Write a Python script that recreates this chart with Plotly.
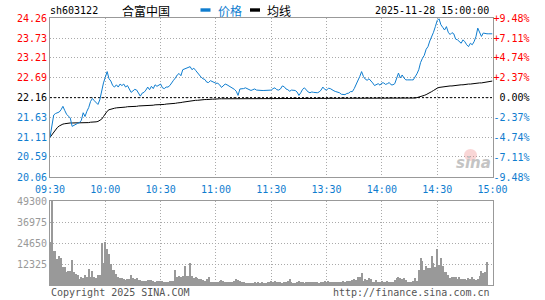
import plotly.graph_objects as go

# ---------------- data ----------------
code = "sh603122"
name = "合富中国"
stamp = "2025-11-28 15:00:00"
prev_close = 22.16

time_ticks = [0, 30, 60, 90, 120, 150, 180, 210, 240]
time_labels = ["09:30", "10:00", "10:30", "11:00", "11:30", "13:30", "14:00", "14:30", "15:00"]
price_ticks = [24.26, 23.73, 23.21, 22.69, 22.16, 21.63, 21.11, 20.59, 20.06]
pct_ticks = [9.48, 7.11, 4.74, 2.37, 0.00, -2.37, -4.74, -7.11, -9.48]
vol_ticks = [49300, 36975, 24650, 12325]

price = [
    21.11, 21.45, 21.70, 21.74, 21.76, 21.78, 21.84, 21.93, 21.82, 21.72,
    21.67, 21.62, 21.40, 21.43, 21.47, 21.48, 21.50, 21.56, 21.76, 21.66,
    21.80, 21.90, 22.06, 22.14, 22.08, 22.02, 21.98, 22.10, 22.35, 22.55,
    22.70, 22.85, 22.66, 22.60, 22.48, 22.44, 22.50, 22.44, 22.52, 22.48,
    22.52, 22.44, 22.48, 22.38, 22.30, 22.34, 22.38, 22.36, 22.26, 22.20,
    22.28, 22.30, 22.36, 22.44, 22.37, 22.46, 22.40, 22.50, 22.46, 22.50,
    22.52, 22.42, 22.40, 22.44, 22.44, 22.48, 22.56, 22.62, 22.68, 22.76,
    22.80, 22.74, 22.90, 22.92, 22.94, 22.94, 22.98, 22.90, 22.94, 22.88,
    22.82, 22.74, 22.70, 22.66, 22.64, 22.57, 22.56, 22.61, 22.58, 22.56,
    22.54, 22.54, 22.50, 22.43, 22.47, 22.52, 22.50, 22.47, 22.45, 22.43,
    22.38, 22.33, 22.22, 22.39, 22.39, 22.40, 22.42, 22.39, 22.37, 22.35,
    22.37, 22.39, 22.36, 22.35, 22.35, 22.35, 22.35, 22.35, 22.35, 22.35,
    22.36, 22.40, 22.42, 22.37, 22.36, 22.39, 22.47, 22.45, 22.39, 22.37,
    22.33, 22.36, 22.36, 22.35, 22.31, 22.22, 22.29, 22.38, 22.42, 22.35,
    22.31, 22.29, 22.31, 22.30, 22.29, 22.29, 22.31, 22.36, 22.44, 22.38,
    22.36, 22.41, 22.40, 22.36, 22.34, 22.32, 22.31, 22.29, 22.25, 22.25,
    22.24, 22.27, 22.28, 22.32, 22.32, 22.40, 22.50, 22.59, 22.72, 22.85,
    22.72, 22.65, 22.62, 22.66, 22.61, 22.55, 22.48, 22.50, 22.53, 22.49,
    22.55, 22.55, 22.51, 22.53, 22.56, 22.50, 22.50, 22.53, 22.65, 22.81,
    22.68, 22.76, 22.68, 22.63, 22.63, 22.62, 22.63, 22.63, 22.70, 22.79,
    22.90, 23.09, 23.20, 23.28, 23.44, 23.51, 23.66, 23.76, 23.89, 24.04,
    24.20, 24.25, 24.09, 24.02, 23.95, 24.04, 23.89, 23.83, 23.88, 23.85,
    23.71, 23.69, 23.65, 23.60, 23.69, 23.64, 23.56, 23.51, 23.60, 23.56,
    23.64, 23.77, 24.00, 23.87, 23.78, 23.87, 23.85, 23.85, 23.85, 23.85,
    23.85,
]

avg = [
    21.11, 21.18, 21.25, 21.32, 21.37, 21.41, 21.44, 21.46, 21.47, 21.48,
    21.49, 21.49, 21.49, 21.49, 21.49, 21.49, 21.50, 21.50, 21.50, 21.50,
    21.50, 21.50, 21.51, 21.51, 21.51, 21.52, 21.53, 21.55, 21.59, 21.66,
    21.74, 21.80, 21.84, 21.86, 21.87, 21.88, 21.89, 21.89, 21.90, 21.90,
    21.91, 21.91, 21.92, 21.92, 21.92, 21.93, 21.93, 21.93, 21.94, 21.94,
    21.94, 21.95, 21.95, 21.95, 21.96, 21.96, 21.96, 21.97, 21.97, 21.97,
    21.98, 21.98, 21.98, 21.99, 21.99, 22.00, 22.00, 22.01, 22.01, 22.02,
    22.02, 22.03, 22.04, 22.05, 22.06, 22.06, 22.07, 22.08, 22.08, 22.09,
    22.09, 22.10, 22.10, 22.11, 22.11, 22.11, 22.12, 22.12, 22.12, 22.12,
    22.13, 22.13, 22.13, 22.13, 22.13, 22.13, 22.13, 22.13, 22.13, 22.13,
    22.13, 22.13, 22.13, 22.13, 22.13, 22.13, 22.13, 22.13, 22.13, 22.13,
    22.13, 22.13, 22.13, 22.13, 22.13, 22.13, 22.13, 22.13, 22.13, 22.13,
    22.13, 22.13, 22.13, 22.13, 22.13, 22.13, 22.13, 22.13, 22.13, 22.13,
    22.13, 22.13, 22.13, 22.13, 22.13, 22.13, 22.13, 22.13, 22.13, 22.13,
    22.13, 22.13, 22.13, 22.13, 22.13, 22.13, 22.13, 22.13, 22.13, 22.13,
    22.14, 22.14, 22.14, 22.14, 22.14, 22.14, 22.14, 22.14, 22.14, 22.14,
    22.14, 22.14, 22.14, 22.14, 22.14, 22.14, 22.14, 22.14, 22.14, 22.14,
    22.14, 22.14, 22.14, 22.14, 22.14, 22.14, 22.14, 22.14, 22.14, 22.14,
    22.14, 22.14, 22.14, 22.14, 22.14, 22.14, 22.14, 22.14, 22.14, 22.14,
    22.14, 22.14, 22.14, 22.14, 22.14, 22.14, 22.14, 22.14, 22.15, 22.16,
    22.17, 22.18, 22.20, 22.22, 22.24, 22.26, 22.29, 22.32, 22.35, 22.39,
    22.41, 22.43, 22.44, 22.45, 22.45, 22.46, 22.46, 22.47, 22.47, 22.48,
    22.48, 22.49, 22.49, 22.50, 22.50, 22.51, 22.51, 22.52, 22.52, 22.53,
    22.53, 22.54, 22.54, 22.55, 22.55, 22.56, 22.57, 22.58, 22.59, 22.59,
    22.60,
]

volume = [
    25000, 49300, 20000, 20000, 15260, 17000, 16000, 10760, 10570, 7830,
    8000, 8000, 14680, 7400, 6500, 5870, 3520, 4700, 4300, 5870,
    4900, 9400, 4900, 8000, 4700, 4300, 5870, 5870, 24460, 12720,
    25440, 21130, 18000, 12130, 8800, 8800, 6260, 4900, 4300, 3900,
    3520, 3130, 3300, 3300, 5870, 3900, 3520, 3900, 2935, 3130,
    2350, 2350, 2350, 3130, 2700, 2700, 2500, 1960, 2500, 2350,
    2350, 2350, 1560, 1560, 1960, 2350, 2350, 2350, 8800, 4700,
    5300, 4900, 5300, 10960, 5500, 5300, 13100, 5300, 3900, 4700,
    3900, 3300, 3300, 3130, 2350, 3300, 4700, 1960, 1960, 1560,
    1960, 1960, 2350, 2935, 2350, 1960, 1560, 1960, 1560, 1960,
    2350, 3300, 2900, 2350, 1560, 1560, 1200, 1400, 1200, 1200,
    1200, 1560, 1400, 1560, 1400, 1560, 1400, 1400, 1560, 1960,
    2350, 1960, 2350, 1560, 1960, 1560, 1200, 1560, 1960, 2350,
    3520, 1560, 1200, 1200, 1960, 2350, 1960, 1560, 1200, 1960,
    1560, 1560, 1560, 1560, 1560, 1560, 1200, 1560, 1960, 2350,
    1560, 2350, 1560, 1560, 1960, 1560, 1560, 1560, 1960, 2350,
    1560, 2350, 2350, 2350, 2935, 3520, 2935, 4700, 4700, 7040,
    2350, 3520, 2700, 3900, 3520, 1960, 1560, 2700, 1960, 1560,
    2350, 1560, 1960, 2350, 1960, 1960, 1960, 2935, 3900, 4700,
    4300, 3520, 3900, 2700, 1560, 1960, 1560, 2350, 3900, 2350,
    8600, 15650, 14100, 8600, 11350, 9800, 10200, 17000, 12700, 10760,
    21130, 11740, 16040, 11350, 7830, 7430, 5870, 4300, 4900, 4900,
    4900, 3520, 4900, 3520, 3520, 3520, 2935, 4300, 3520, 4900,
    3520, 3130, 3520, 5500, 8300, 6900, 7800, 13300, 0, 0,
    0,
]

minutes = list(range(len(price)))

# ---------------- styling ----------------
W, H = 545, 300
BLUE = "#0f7dcf"
RED = "#ff0000"
GREY = "#999999"
GRID = "#aaaaaa"
MONO = "DejaVu Sans Mono"
CJK = "Noto Sans CJK SC"


def px(x):
    return x / W


def py(y):
    return 1 - y / H


def colored(text, val, ref):
    c = RED if val > ref + 1e-9 else ("#000000" if abs(val - ref) < 1e-9 else BLUE)
    return f'<span style="color:{c}">{text}</span>'


price_text = [colored(f"{v:.2f}", v, prev_close) for v in price_ticks]
pct_text = []
for v in pct_ticks:
    if v > 0:
        t = f"+{v:.2f}%"
    elif v < 0:
        t = f"-{abs(v):.2f}%"
    else:
        t = "\u00a0" + f"{v:.2f}%"
    pct_text.append(colored(t, v, 0.0))
pct = [(p / prev_close - 1) * 100 for p in price]

fig = go.Figure()
fig.add_trace(go.Scatter(x=minutes, y=avg, mode="lines", line=dict(color="#000000", width=1),
                         hoverinfo="skip", xaxis="x", yaxis="y"))
fig.add_trace(go.Scatter(x=[minutes[0], minutes[-1]], y=[prev_close, prev_close], mode="lines",
                         line=dict(color="#000000", width=1, dash="2px,2px"),
                         hoverinfo="skip", xaxis="x", yaxis="y"))
fig.add_trace(go.Scatter(x=minutes, y=price, mode="lines", line=dict(color=BLUE, width=1),
                         xaxis="x", yaxis="y"))
fig.add_trace(go.Scatter(x=minutes, y=pct, mode="lines", line=dict(color="rgba(0,0,0,0)", width=0),
                         hoverinfo="skip", xaxis="x", yaxis="y3"))
fig.add_trace(go.Bar(x=minutes, y=volume, marker=dict(color=GREY, line=dict(width=0)), width=0.6,
                     xaxis="x2", yaxis="y2"))

xdom = [px(50), px(492.5)]
common_grid = dict(showgrid=True, gridcolor=GRID, griddash="1px,2px", gridwidth=1,
                   showline=True, linecolor=GREY, linewidth=1, mirror=True,
                   zeroline=False, ticks="", automargin=False)

fig.update_layout(
    width=W, height=H, margin=dict(l=0, r=0, t=0, b=0, autoexpand=False),
    paper_bgcolor="white", plot_bgcolor="white", showlegend=False,
    font=dict(family=MONO, size=10, color="#000000"),
    xaxis=dict(domain=xdom, range=[0, 240], anchor="y", tickvals=time_ticks, ticktext=time_labels,
               tickfont=dict(color=BLUE, size=10, family=MONO), ticklabelstandoff=3, **common_grid),
    yaxis=dict(domain=[py(177), py(18.3)], range=[price_ticks[-1], price_ticks[0]], anchor="x",
               tickvals=price_ticks, ticktext=price_text, tickfont=dict(size=10, family=MONO),
               **common_grid),
    yaxis3=dict(overlaying="y", side="right", anchor="x", range=[pct_ticks[-1], pct_ticks[0]],
                tickvals=pct_ticks, ticktext=pct_text, showgrid=False, zeroline=False,
                showline=False, ticks="", automargin=False, tickfont=dict(size=10, family=MONO)),
    xaxis2=dict(domain=xdom, range=[0, 240], anchor="y2", matches="x", tickvals=time_ticks,
                showticklabels=False, **common_grid),
    yaxis2=dict(domain=[py(285), py(201)], range=[0, vol_ticks[0]], anchor="x2",
                tickvals=vol_ticks, ticktext=[str(v) for v in vol_ticks],
                tickfont=dict(color=GREY, size=10, family=MONO), **common_grid),
    bargap=0,
)

ann = [
    dict(x=px(48), y=py(10.5), text=code, xanchor="left", font=dict(family=MONO, size=10, color="#000")),
    dict(x=px(120), y=py(10.5), text=name, xanchor="left", font=dict(family=CJK, size=12, color="#000")),
    dict(x=px(215.5), y=py(10.5), text="价格", xanchor="left", font=dict(family=CJK, size=12, color=BLUE)),
    dict(x=px(265), y=py(10.5), text="均线", xanchor="left", font=dict(family=CJK, size=12, color="#000")),
    dict(x=px(491), y=py(10.5), text=stamp, xanchor="right", font=dict(family=MONO, size=10, color="#000")),
    dict(x=px(49), y=py(292.5), text="Copyright 2025 SINA.COM", xanchor="left",
         font=dict(family=MONO, size=10, color="#555")),
    dict(x=px(491.5), y=py(292.5), text="http://finance.sina.com.cn", xanchor="right",
         font=dict(family=MONO, size=10, color="#555")),
    dict(x=px(473), y=py(163), text="<b><i>sina</i></b>", xanchor="center",
         font=dict(family="DejaVu Sans", size=15, color="#c4c4c4")),
]
for a in ann:
    a.update(xref="paper", yref="paper", showarrow=False, yanchor="middle")
fig.update_layout(annotations=ann)

fig.update_layout(shapes=[
    dict(type="rect", xref="paper", yref="paper", x0=px(200.5), x1=px(210.5), y0=py(11.7), y1=py(8.3),
         fillcolor=BLUE, line=dict(width=0)),
    dict(type="rect", xref="paper", yref="paper", x0=px(250), x1=px(260), y0=py(11.7), y1=py(8.3),
         fillcolor="#000", line=dict(width=0)),
    dict(type="circle", xref="paper", yref="paper", x0=px(464), x1=px(477), y0=py(161), y1=py(149),
         fillcolor="rgba(235,120,120,0.30)", line=dict(width=0)),
])

fig.write_html("out.html")
